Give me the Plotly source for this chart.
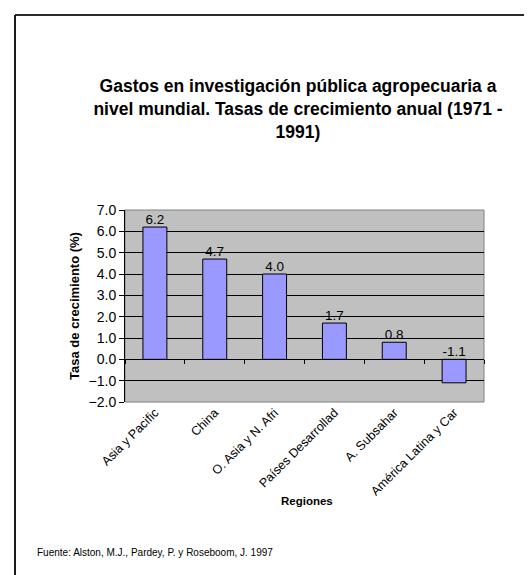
import plotly.graph_objects as go

regions = ["Asia y Pacific", "China", "O. Asia y N. Afri", "Países Desarrollad", "A. Subsahar", "América Latina y Car"]
growth = [6.2, 4.7, 4.0, 1.7, 0.8, -1.1]
y_ticks = [-2.0, -1.0, 0.0, 1.0, 2.0, 3.0, 4.0, 5.0, 6.0, 7.0]

title_text = "Gastos en investigación pública agropecuaria a<br>nivel mundial. Tasas de crecimiento anual (1971 -<br>1991)"
y_title = "Tasa de crecimiento (%)"
x_title = "Regiones"
source = "Fuente: Alston, M.J., Pardey, P. y Roseboom, J. 1997"

FONT = "Liberation Sans, Arial, sans-serif"
OFF = 8  # default body margin of the html page
W, H = 532 - OFF, 575 - OFF
L, R, T, B = 125 - OFF, 532 - 484, 210 - OFF, 575 - 402
plot_w = W - L - R
plot_h = H - T - B
ymin, ymax = -2, 7


def px_x(px):
    return (px - OFF - L) / plot_w


def px_y(py):
    return (H - B - (py - OFF)) / plot_h


fig = go.Figure()
fig.add_trace(go.Bar(
    x=regions, y=growth,
    marker=dict(color="#9999FF", line=dict(color="black", width=1)),
    width=0.4, showlegend=False, hoverinfo="x+y",
))
fig.add_trace(go.Scatter(
    x=regions, y=[max(v, 0) for v in growth],
    text=[f"{v:.1f}" for v in growth],
    mode="text", textposition="top center",
    textfont=dict(family=FONT, size=13.5, color="black"),
    showlegend=False, hoverinfo="skip",
))
# category axis crossing at zero, ticks on category boundaries
fig.add_trace(go.Scatter(
    x=regions, y=growth, xaxis="x2", mode="none",
    showlegend=False, hoverinfo="skip",
))

zero_pos = (0 - ymin) / (ymax - ymin)

fig.update_layout(
    width=W, height=H,
    margin=dict(l=L, r=R, t=T, b=B),
    paper_bgcolor="white",
    plot_bgcolor="#C0C0C0",
    font=dict(family=FONT, color="black"),
    title=dict(
        text=title_text,
        font=dict(family=FONT, size=17.5, color="black", weight="bold"),
        x=px_x(298), xref="paper", xanchor="center",
        y=1 - (92 - OFF) / H, yanchor="top",
    ),
    xaxis=dict(
        type="category",
        categoryorder="array", categoryarray=regions,
        range=[-0.5, 5.5],
        showgrid=False, zeroline=False,
        showline=False, ticks="",
        tickangle=-45,
        tickfont=dict(family=FONT, size=12.5, color="black"),
        fixedrange=True,
    ),
    xaxis2=dict(
        type="category", overlaying="x", anchor="free", position=zero_pos,
        categoryorder="array", categoryarray=regions,
        range=[-0.5, 5.5],
        showgrid=False, zeroline=False,
        showline=True, linecolor="black", linewidth=1,
        ticks="outside", ticklen=4, tickcolor="black", tickson="boundaries",
        showticklabels=False, side="bottom",
    ),
    yaxis=dict(
        range=[ymin, ymax],
        tickvals=y_ticks,
        tickformat=".1f",
        showgrid=True, gridcolor="black", gridwidth=1,
        zeroline=False,
        showline=True, linecolor="black", linewidth=1,
        ticks="outside", ticklen=5, tickcolor="black",
        tickfont=dict(family=FONT, size=14, color="black"),
        title=dict(text=y_title, font=dict(family=FONT, size=13, color="black", weight="bold"), standoff=6),
        fixedrange=True,
    ),
    shapes=[
        dict(type="rect", xref="x domain", yref="y domain", x0=0, x1=1, y0=0, y1=1,
             line=dict(color="#808080", width=1), layer="below"),
        dict(type="line", xref="paper", yref="paper", x0=px_x(15), x1=px_x(540), y0=px_y(15), y1=px_y(15),
             line=dict(color="#2a2a2a", width=2)),
        dict(type="line", xref="paper", yref="paper", x0=px_x(15), x1=px_x(15), y0=px_y(15), y1=px_y(585),
             line=dict(color="#1a1a1a", width=2)),
    ],
    annotations=[
        dict(text=f"<b>{x_title}</b>", xref="paper", yref="paper", x=px_x(307), y=px_y(501),
             xanchor="center", yanchor="middle", showarrow=False,
             font=dict(family=FONT, size=11.5, color="black")),
        dict(text=source, xref="paper", yref="paper", x=px_x(35), y=px_y(552),
             xanchor="left", yanchor="middle", showarrow=False,
             font=dict(family=FONT, size=10, color="black")),
    ],
)

fig.write_html("out.html")
